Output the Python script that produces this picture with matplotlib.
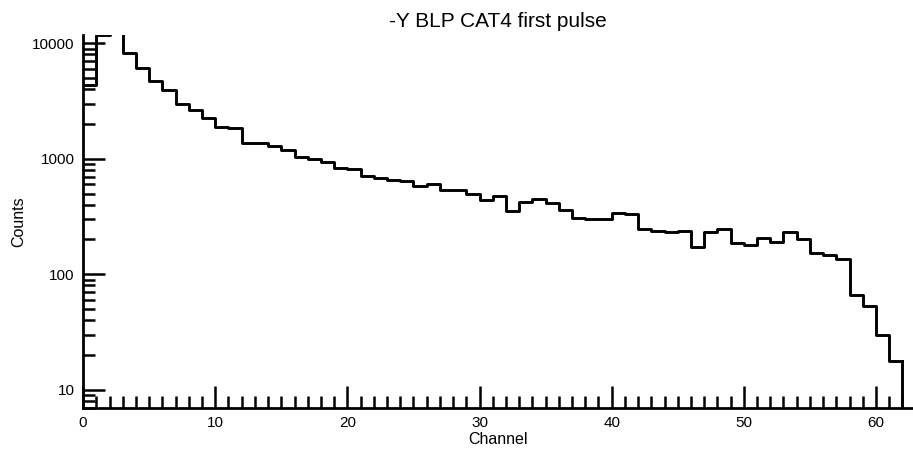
import numpy as np
import matplotlib
matplotlib.use('Agg')
import matplotlib.pyplot as plt
from matplotlib.ticker import LogLocator, MultipleLocator, FixedLocator

plt.rcParams['font.family'] = ['Liberation Sans', 'DejaVu Sans']

# counts per channel (bin i spans channel i .. i+1)
channels = np.arange(0, 63)
counts = [4330, 11700, 14000, 8290, 6150, 4720, 3945, 2980, 2630, 2277,
          1897, 1837, 1377, 1360, 1280, 1191, 1042, 995, 944, 837,
          822, 710, 677, 657, 643, 580, 605, 540, 533, 495,
          440, 476, 351, 420, 444, 412, 358, 307, 301, 299,
          340, 334, 246, 237, 232, 239, 173, 234, 248, 188,
          180, 206, 190, 231, 201, 154, 146, 135, 66.5, 53.2,
          30.0, 17.9]

title = '-Y BLP CAT4 first pulse'
xlabel = 'Channel'
ylabel = 'Counts'

fig = plt.figure(figsize=(9.13, 4.55), dpi=100)
ax = fig.add_axes([0.091, 0.1033, 0.909, 0.8198])

# step outline: drop to the baseline after the last bin
edges_y = list(counts) + [counts[-1]]
ax.step(channels, edges_y, where='post', color='black', lw=2.1)
ax.plot([62, 62], [counts[-1], 1], color='black', lw=2.1)

ax.set_yscale('log')
ax.set_xlim(0, 62.8)
ax.set_ylim(6.95, 11800)

ax.spines['top'].set_visible(False)
ax.spines['right'].set_visible(False)
ax.spines['left'].set_linewidth(2)
ax.spines['bottom'].set_linewidth(2)

ax.xaxis.set_major_locator(MultipleLocator(10))
ax.xaxis.set_minor_locator(MultipleLocator(1))
ax.yaxis.set_major_locator(FixedLocator([10, 100, 1000, 10000]))
ax.yaxis.set_minor_locator(LogLocator(base=10, subs=np.arange(2, 10)))
ax.yaxis.set_minor_formatter(plt.NullFormatter())
ax.yaxis.set_major_formatter(plt.FuncFormatter(lambda v, p: '%d' % v))

ax.tick_params(which='major', direction='in', length=16, width=1.8,
               labelsize=11, pad=6)
ax.tick_params(which='minor', direction='in', length=8.5, width=1.8)

ax.set_xlabel(xlabel, fontsize=11.5, labelpad=1)
ax.set_ylabel(ylabel, fontsize=11.5, labelpad=4)
ax.set_title(title, fontsize=15, pad=6)

fig.savefig('out.png', dpi=100)
